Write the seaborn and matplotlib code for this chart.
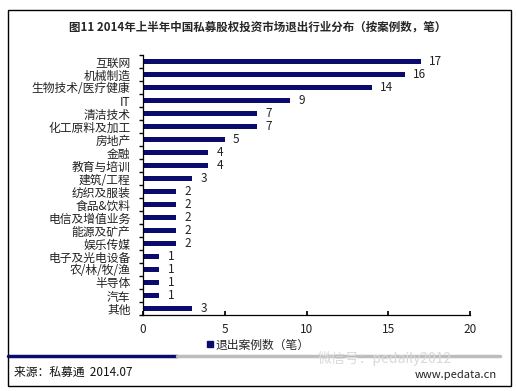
import matplotlib
matplotlib.use("Agg")
import matplotlib.pyplot as plt
import seaborn as sns
import pandas as pd
from matplotlib.patches import Rectangle
from matplotlib.lines import Line2D

# chart data
industries = ["互联网", "机械制造", "生物技术/医疗健康", "IT", "清洁技术", "化工原料及加工",
              "房地产", "金融", "教育与培训", "建筑/工程", "纺织及服装", "食品&饮料",
              "电信及增值业务", "能源及矿产", "娱乐传媒", "电子及光电设备", "农/林/牧/渔",
              "半导体", "汽车", "其他"]
exit_counts = [17, 16, 14, 9, 7, 7, 5, 4, 4, 3, 2, 2, 2, 2, 2, 1, 1, 1, 1, 3]
x_ticks = [0, 5, 10, 15, 20]

title_text = "图11 2014年上半年中国私募股权投资市场退出行业分布（按案例数，笔）"
legend_text = "退出案例数（笔）"
source_text = "来源：私募通  2014.07"

navy = "#0b0b6e"

sns.set_theme(style="white")
plt.rcParams["font.family"] = ["Noto Sans CJK SC", "DejaVu Sans"]
plt.rcParams["axes.unicode_minus"] = False

W, H = 516, 391
fig = plt.figure(figsize=(W / 100, H / 100), dpi=100)
fig.patch.set_facecolor("white")

def fx(px):
    return px / W

def fy(py):
    return 1 - py / H

ax = fig.add_axes([fx(143), fy(315), fx(470) - fx(143), fy(55) - fy(315)])
df = pd.DataFrame({"industry": industries, "count": exit_counts})
sns.barplot(data=df, x="count", y="industry", orient="h", color=navy,
            width=0.42, saturation=1, ax=ax)
for p in ax.patches:
    p.set_edgecolor("none")
ax.bar_label(ax.containers[0], padding=6, fontsize=8.5, color="#222222")

ax.set_xlim(0, 20)
ax.set_ylim(19.5, -0.5)
ax.set_xticks(x_ticks)
ax.set_xlabel("")
ax.set_ylabel("")
ax.tick_params(axis="x", direction="in", length=3, labelsize=8.5, colors="black",
               labelcolor="#222222", pad=6, bottom=True)
ax.tick_params(axis="y", length=0, labelsize=8.5, pad=9, labelcolor="#222222")
ax.set_yticks([i - 0.5 for i in range(len(industries) + 1)], minor=True)
ax.tick_params(axis="y", which="minor", direction="out", length=3, left=True, color="black")
for s in ["top", "right"]:
    ax.spines[s].set_visible(False)
for s in ["left", "bottom"]:
    ax.spines[s].set_color("black")
    ax.spines[s].set_linewidth(0.9)

# legend
handle = Line2D([], [], marker="s", linestyle="none", color=navy, markersize=5)
fig.legend([handle], [legend_text], loc="center", bbox_to_anchor=(fx(258), fy(345)),
           frameon=False, fontsize=8.5, handlelength=0.6, handletextpad=0.2)

# title
fig.text(fx(258), fy(27), title_text, ha="center", va="center", fontsize=8.3, fontweight="bold")

# frame and footer
fig.add_artist(Rectangle((fx(8), fy(386)), fx(511) - fx(8), fy(10) - fy(386),
                         transform=fig.transFigure, fill=False, edgecolor="black", linewidth=1))
fig.add_artist(Line2D([fx(8), fx(177)], [fy(356), fy(356)], transform=fig.transFigure,
                      color=navy, linewidth=2.5))
fig.add_artist(Line2D([fx(177), fx(500)], [fy(356), fy(356)], transform=fig.transFigure,
                      color="#bdbdbd", linewidth=2.5))
fig.text(fx(14), fy(372), source_text, ha="left", va="center", fontsize=8.5, color="#111111")
fig.text(fx(318), fy(359), "微信号：pedaily2012", ha="left", va="center", fontsize=10,
         color="#d9d9d9")
fig.text(fx(497), fy(375), "www.pedata.cn", ha="right", va="center", fontsize=8, color="#222222")

fig.savefig("out.png", dpi=100, facecolor="white")
